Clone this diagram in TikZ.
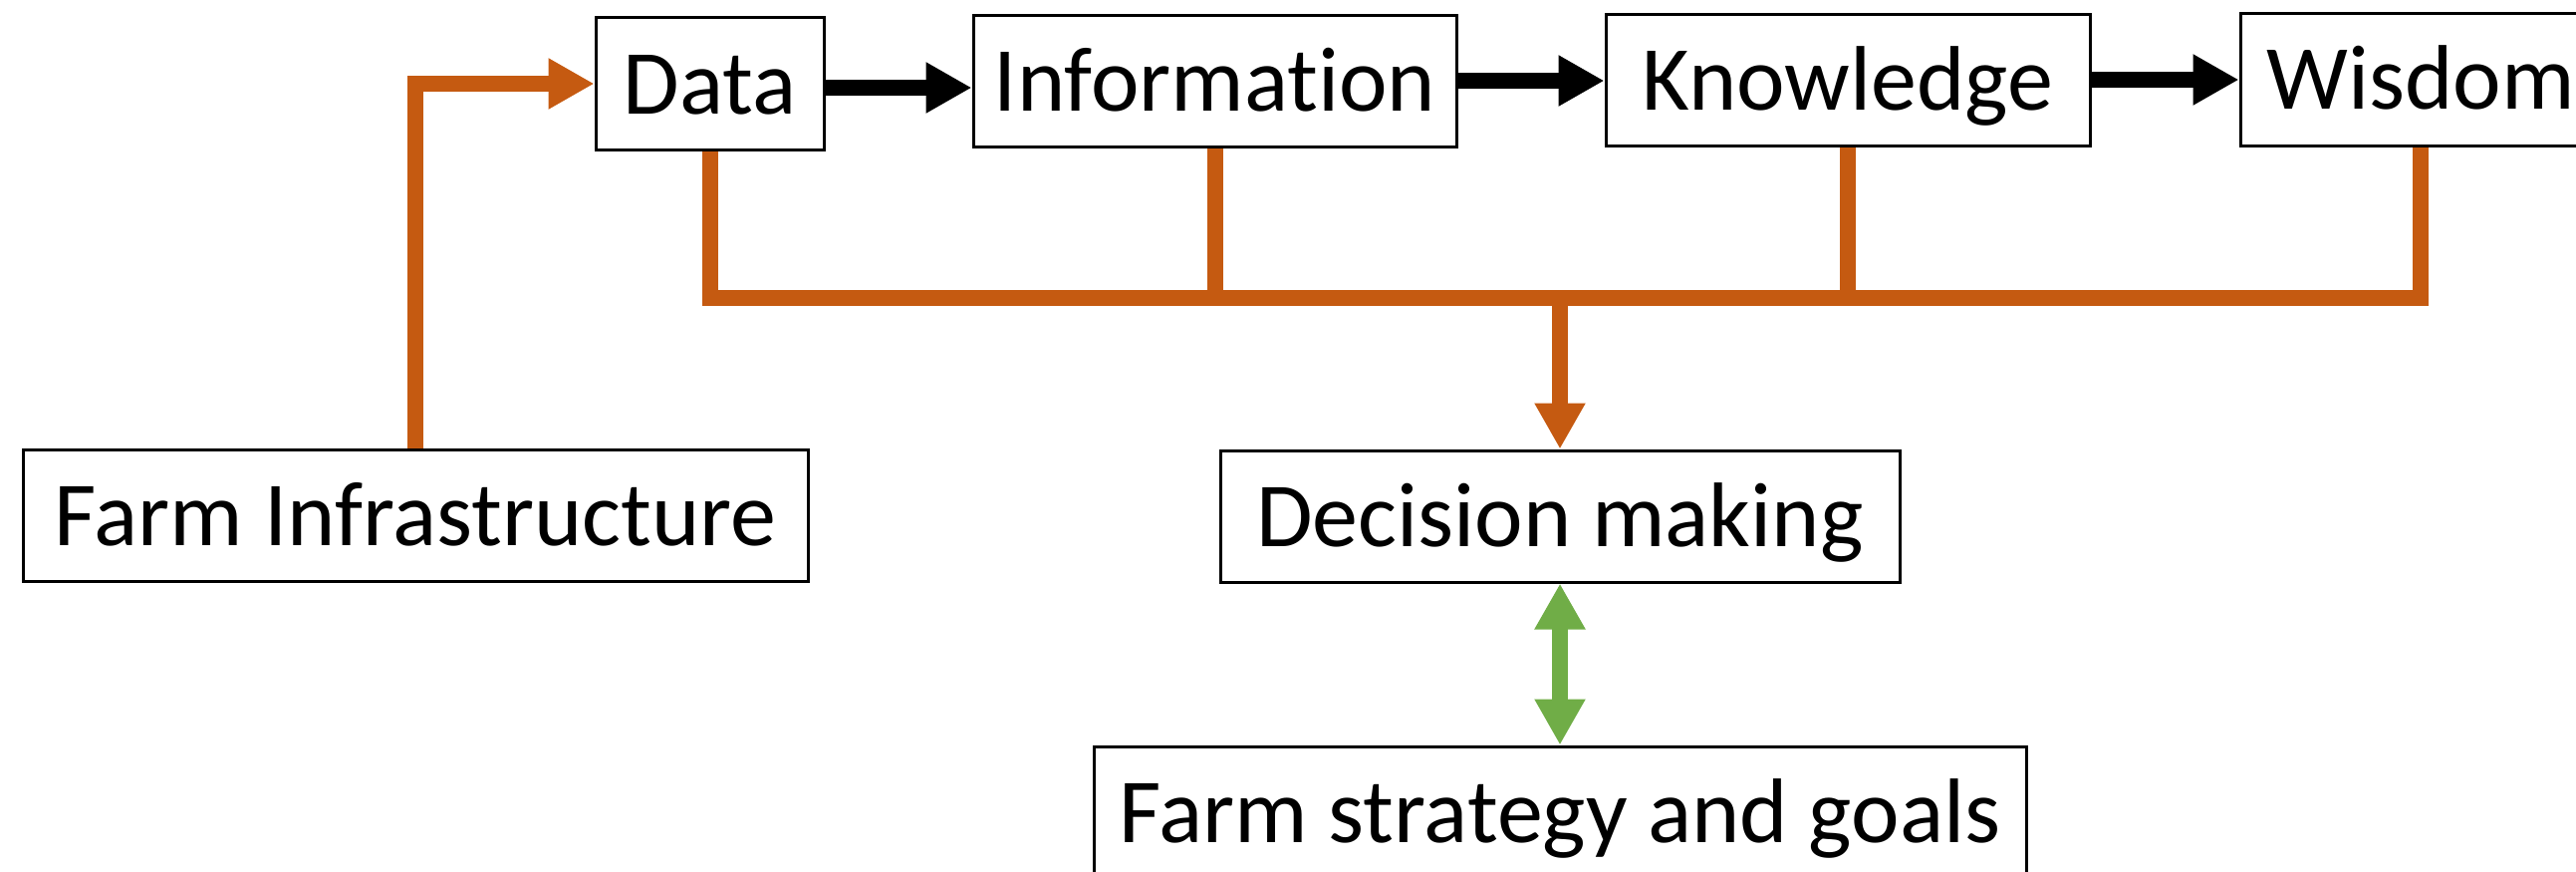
\documentclass[tikz,border=0pt]{standalone}
\usepackage{fontspec}
\setmainfont[Ligatures=NoCommon]{Carlito}
\usetikzlibrary{arrows.meta}
\definecolor{orangeline}{HTML}{C55A11}
\definecolor{greenline}{HTML}{70AD47}
\begin{document}
\begin{tikzpicture}[x=1pt,y=-1pt,
  box/.style={draw=black,line width=3pt,fill=white,font=\fontsize{92}{110}\selectfont,
    text height=70pt,text depth=10pt,minimum height=132pt,inner sep=0pt,anchor=center},
  fatline/.style={line width=16pt,line join=miter},
  fattip/.style={-{Triangle[length=46pt,width=48pt]}},
  fatboth/.style={{Triangle[length=46pt,width=48pt]}-{Triangle[length=46pt,width=48pt]}}]
\path[use as bounding box] (0,0) rectangle (2586,875);
\clip (0,0) rectangle (2586,875);

\node[box,minimum width=229pt] (data) at (712.5,84) {Data};
\node[box,minimum width=485pt] (info) at (1219.5,81.5) {Information};
\node[box,minimum width=486pt] (know) at (1855,80.5) {Knowledge};
\node[box,minimum width=362pt] (wis) at (2430,80) {Wisdom};
\node[box,minimum width=788pt] (farm) at (417,517.5) {Farm Infrastructure};
\node[box,minimum width=682pt] (dec) at (1566,518) {Decision making};
\node[box,minimum width=936pt] (strat) at (1566,815) {Farm strategy and goals};

\coordinate (a1) at (0,88);
\coordinate (a2) at (0,81);
\coordinate (a3) at (0,80);
\coordinate (bus) at (0,299);

\draw[fatline,fattip,black] (data.east |- a1) -- (info.west |- a1);
\draw[fatline,fattip,black] (info.east |- a2) -- (know.west |- a2);
\draw[fatline,fattip,black] (know.east |- a3) -- (wis.west |- a3);

\draw[fatline,fattip,orangeline] (farm.north) |- (data.west);
\draw[fatline,orangeline] (data.south) -- (data.south |- bus) -- (wis.south |- bus) -- (wis.south);
\draw[fatline,orangeline] (info.south) -- (info.south |- bus);
\draw[fatline,orangeline] (know.south) -- (know.south |- bus);
\draw[fatline,fattip,orangeline] (dec.north |- bus) -- (dec.north);

\draw[fatline,fatboth,greenline] (dec.south) -- (strat.north);
\end{tikzpicture}
\end{document}
